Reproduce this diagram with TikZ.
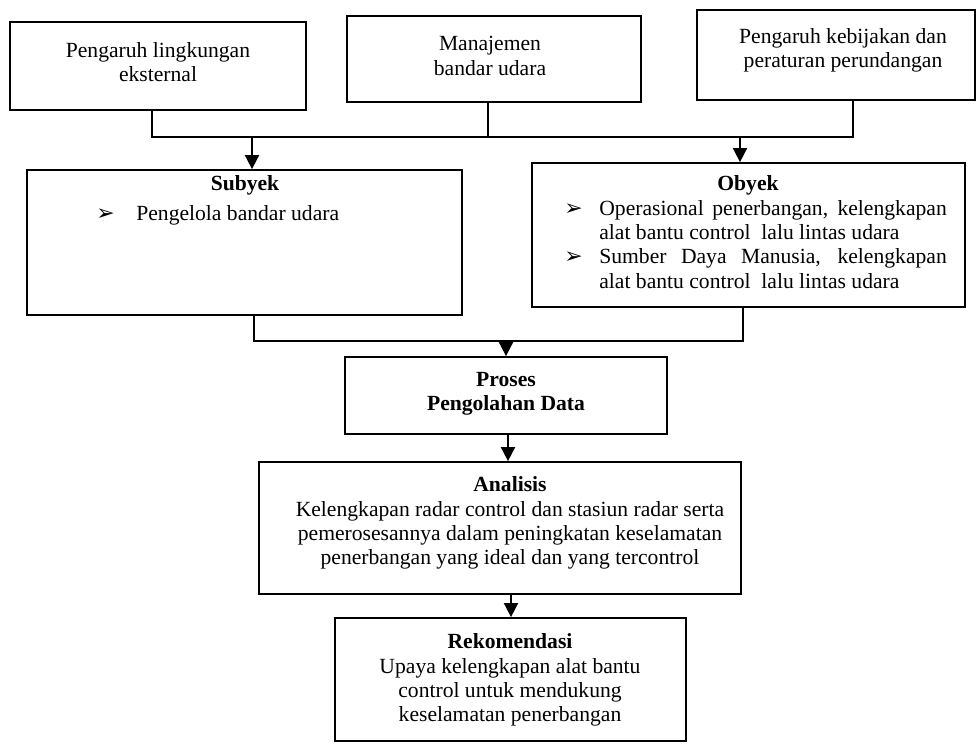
\documentclass[tikz,border=0pt]{standalone}
\usepackage{fontspec}
\setmainfont{Liberation Serif}
\newfontfamily\symfont{DejaVu Sans}
\usetikzlibrary{fit,arrows.meta}
\newcommand{\pnt}{{\symfont\fontsize{12.5}{13.8}\selectfont ➢}}
\begin{document}
\begin{tikzpicture}[x=0.02cm,y=-0.02cm,
  box/.style={draw,line width=1pt,inner sep=0pt},
  txt/.style={align=center,inner sep=0pt,font=\fontsize{12.3}{13.8}\selectfont},
  hd/.style={txt,font=\fontsize{12.3}{13.8}\selectfont\bfseries},
  arr/.style={line width=1pt,-{Triangle[width=8pt,length=8pt]}},
  ln/.style={line width=1pt}]
\useasboundingbox (0,0) rectangle (980,744);
\node[box,fit={(10,22)(306,110)}] (ext) {};
\node[box,fit={(347,16)(641,102)}] (mgmt) {};
\node[box,fit={(697,10)(975,100)}] (law) {};
\node[txt] (ext-t) at (158,62) {Pengaruh lingkungan\\eksternal};
\node[txt] (mgmt-t) at (490,56) {Manajemen\\bandar udara};
\node[txt] (law-t) at (843,50) {Pengaruh kebijakan dan\\peraturan perundangan};
\node[box,fit={(27,170)(462,315)}] (subyek) {};
\node[box,fit={(532,163)(965,307)}] (obyek) {};
\node[hd] (subyek-h) at (245,185) {Subyek};
\node[txt,anchor=west] (subyek-l) at (96,216) {\begin{tabular}{@{}p{0.8cm}@{}l@{}}\pnt & Pengelola bandar udara\end{tabular}};
\node[hd] (obyek-h) at (748,185) {Obyek};
\node[txt,anchor=west] (obyek-l) at (564,247) {\begin{tabular}{@{}p{0.7cm}@{}p{6.95cm}@{}}
\pnt & Operasional penerbangan, kelengkapan\linebreak alat bantu control\ \ lalu lintas udara\\
\pnt & Sumber Daya Manusia, kelengkapan\linebreak alat bantu control\ \ lalu lintas udara
\end{tabular}};
\node[box,fit={(345,357)(667,434)}] (proses) {};
\node[hd] (proses-t) at (506,394) {Proses\\Pengolahan Data};
\node[box,fit={(259,462)(741,594)}] (analisis) {};
\node[txt] (analisis-t) at (510,523) {\textbf{Analisis}\\Kelengkapan radar control dan stasiun radar serta\\pemerosesannya dalam peningkatan keselamatan\\penerbangan yang ideal dan yang tercontrol};
\node[box,fit={(335,618)(686,741)}] (rekom) {};
\node[txt] (rekom-t) at (510,680) {\textbf{Rekomendasi}\\Upaya kelengkapan alat bantu\\control untuk mendukung\\keselamatan penerbangan};
\coordinate (t1) at (152,137);
\coordinate (t2) at (488,137);
\coordinate (t3) at (853,137);
\coordinate (d1) at (252,137);
\coordinate (d2) at (740,137);
\coordinate (b1) at (254,341);
\coordinate (b2) at (743,341);
\coordinate (b3) at (506,341);
\coordinate (a1) at (508,0);
\coordinate (a2) at (511,0);
\draw[ln] (ext.south -| t1) -- (t1) -- (t3) -- (law.south -| t3);
\draw[ln] (mgmt.south -| t2) -- (t2);
\draw[arr] (d1) -- (subyek.north -| d1);
\draw[arr] (d2) -- (obyek.north -| d2);
\draw[ln] (subyek.south -| b1) -- (b1) -- (b2) -- (obyek.south -| b2);
\draw[arr] (b3) -- (proses.north -| b3);
\draw[arr] (proses.south -| a1) -- (analisis.north -| a1);
\draw[arr] (analisis.south -| a2) -- (rekom.north -| a2);
\end{tikzpicture}
\end{document}
